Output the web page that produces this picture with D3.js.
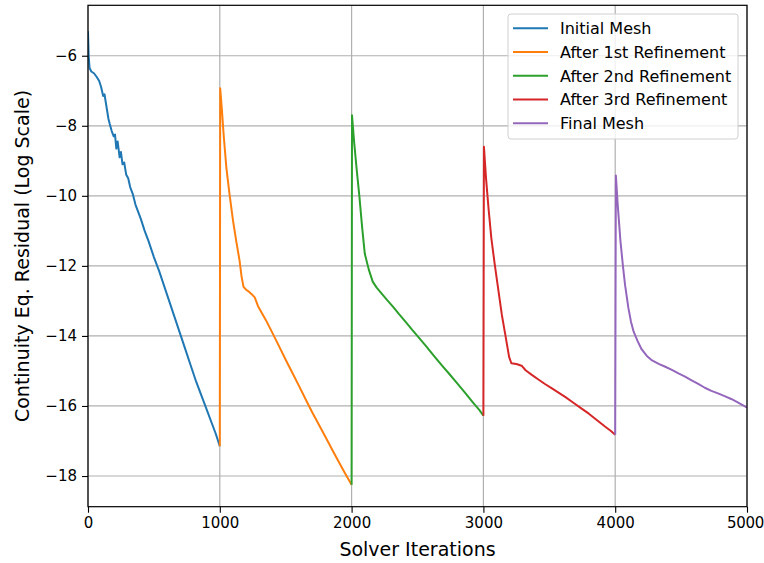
<!DOCTYPE html>
<html>
<head>
<meta charset="utf-8">
<script src="https://cdn.jsdelivr.net/npm/d3@7/dist/d3.min.js"></script>
<style>
  html, body { margin: 0; padding: 0; background: #fff; }
  svg { display: block; font-family: "DejaVu Sans", sans-serif; }
</style>
</head>
<body>
<svg id="chart" width="764" height="563"></svg>
<script>
// Residual history of the continuity equation across mesh refinements (log10 values)
const seriesNames = ["Initial Mesh", "After 1st Refinement", "After 2nd Refinement", "After 3rd Refinement", "Final Mesh"];
const seriesColors = ["#1f77b4", "#ff7f0e", "#2ca02c", "#d62728", "#9467bd"];

const initialIter = [0, 5, 12, 25, 45, 65, 85, 100, 115, 125, 140, 155, 165, 180, 195, 205, 215, 225, 240, 250, 262, 275, 290, 305, 320, 340, 360, 380, 400, 430, 460, 500, 540, 580, 620, 660, 700, 740, 780, 820, 860, 900, 940, 970, 1000];
const initialRes = [-5.3, -6.0, -6.35, -6.45, -6.5, -6.6, -6.72, -6.9, -7.15, -7.1, -7.45, -7.8, -7.95, -8.15, -8.3, -8.25, -8.65, -8.45, -8.9, -8.75, -9.1, -9.05, -9.4, -9.5, -9.75, -9.95, -10.25, -10.45, -10.65, -11.0, -11.3, -11.75, -12.15, -12.6, -13.05, -13.5, -13.95, -14.4, -14.85, -15.3, -15.7, -16.1, -16.5, -16.8, -17.15];

const ref1Iter = [1000, 1003, 1015, 1030, 1050, 1073, 1100, 1125, 1150, 1165, 1180, 1200, 1215, 1240, 1265, 1290, 1320, 1350, 1400, 1450, 1500, 1550, 1600, 1650, 1700, 1750, 1800, 1850, 1900, 1950, 2000];
const ref1Res = [-17.15, -6.93, -7.5, -8.3, -9.2, -9.93, -10.7, -11.3, -11.85, -12.3, -12.6, -12.68, -12.72, -12.8, -12.9, -13.15, -13.35, -13.55, -13.92, -14.3, -14.68, -15.05, -15.42, -15.8, -16.17, -16.52, -16.87, -17.23, -17.58, -17.92, -18.25];

const ref2Iter = [2000, 2003, 2020, 2040, 2060, 2080, 2100, 2130, 2160, 2190, 2230, 2270, 2315, 2360, 2410, 2460, 2515, 2560, 2620, 2680, 2740, 2800, 2860, 2920, 2970, 3000];
const ref2Res = [-18.25, -7.7, -8.5, -9.3, -10.05, -10.9, -11.65, -12.1, -12.45, -12.62, -12.8, -12.98, -13.17, -13.38, -13.6, -13.83, -14.07, -14.27, -14.55, -14.82, -15.08, -15.35, -15.62, -15.9, -16.12, -16.28];

const ref3Iter = [3000, 3004, 3020, 3040, 3060, 3085, 3110, 3140, 3170, 3195, 3212, 3250, 3290, 3320, 3370, 3420, 3470, 3520, 3570, 3620, 3680, 3740, 3800, 3860, 3920, 3970, 4000];
const ref3Res = [-16.28, -8.6, -9.5, -10.4, -11.2, -11.93, -12.6, -13.4, -14.05, -14.6, -14.78, -14.8, -14.85, -14.98, -15.12, -15.25, -15.38, -15.5, -15.62, -15.74, -15.9, -16.06, -16.22, -16.4, -16.58, -16.72, -16.82];

const finalIter = [4000, 4005, 4020, 4040, 4060, 4075, 4100, 4120, 4140, 4170, 4200, 4240, 4280, 4330, 4380, 4430, 4480, 4530, 4580, 4630, 4680, 4730, 4780, 4830, 4880, 4930, 4970, 5000];
const finalRes = [-16.82, -9.42, -10.3, -11.3, -12.05, -12.55, -13.2, -13.6, -13.88, -14.15, -14.38, -14.57, -14.7, -14.8, -14.88, -14.97, -15.07, -15.16, -15.27, -15.37, -15.48, -15.57, -15.64, -15.72, -15.8, -15.9, -15.98, -16.05];

const xTicks = [0, 1000, 2000, 3000, 4000, 5000];
const yTicks = [-18, -16, -14, -12, -10, -8, -6];

const seriesIter = [initialIter, ref1Iter, ref2Iter, ref3Iter, finalIter];
const seriesRes = [initialRes, ref1Res, ref2Res, ref3Res, finalRes];

const svg = d3.select("#chart");
const plot = { left: 88, right: 747, top: 5.3, bottom: 506.7 };

const x = d3.scaleLinear().domain([0, 5000]).range([plot.left, plot.right]);
const y = d3.scaleLinear().domain([-18.876, -4.56]).range([plot.bottom, plot.top]);

const fmt = v => String(v).replace("-", "\u2212");

// grid
const grid = svg.append("g");
grid.selectAll("line.gx").data(xTicks).join("line")
  .attr("x1", d => x(d)).attr("x2", d => x(d))
  .attr("y1", plot.top).attr("y2", plot.bottom)
  .attr("stroke", "#b0b0b0").attr("stroke-width", 1.2);
grid.selectAll("line.gy").data(yTicks).join("line")
  .attr("x1", plot.left).attr("x2", plot.right)
  .attr("y1", d => y(d)).attr("y2", d => y(d))
  .attr("stroke", "#b0b0b0").attr("stroke-width", 1.2);

// residual curves
svg.append("clipPath").attr("id", "plotClip").append("rect")
  .attr("x", plot.left).attr("y", plot.top)
  .attr("width", plot.right - plot.left).attr("height", plot.bottom - plot.top);

const line = d3.line().x(d => x(d[0])).y(d => y(d[1]));
const curves = svg.append("g").attr("clip-path", "url(#plotClip)");
seriesNames.forEach((name, i) => {
  const pts = seriesIter[i].map((it, k) => [it, seriesRes[i][k]]);
  curves.append("path").datum(pts)
    .attr("d", line)
    .attr("fill", "none")
    .attr("stroke", seriesColors[i])
    .attr("stroke-width", 2)
    .attr("stroke-linejoin", "round")
    .attr("stroke-linecap", "butt");
});

// axes
const xAxis = d3.axisBottom(x).tickValues(xTicks).tickSize(6).tickPadding(5).tickFormat(d => fmt(d));
const yAxis = d3.axisLeft(y).tickValues(yTicks).tickSize(6).tickPadding(5).tickFormat(d => fmt(d));

const gx = svg.append("g").attr("transform", `translate(0,${plot.bottom})`).call(xAxis);
const gy = svg.append("g").attr("transform", `translate(${plot.left},0)`).call(yAxis);
[gx, gy].forEach(g => {
  g.select(".domain").remove();
  g.selectAll(".tick line").attr("stroke", "#000").attr("stroke-width", 1.1);
  g.selectAll(".tick text").attr("fill", "#000").style("font-size", "15px").style("font-family", "DejaVu Sans");
});
// keep the last x label inside the page edge
gx.selectAll(".tick text").filter(d => d === 5000).attr("dx", -2).style("letter-spacing", "-0.3px");

// frame
svg.append("rect")
  .attr("x", plot.left).attr("y", plot.top)
  .attr("width", plot.right - plot.left).attr("height", plot.bottom - plot.top)
  .attr("fill", "none").attr("stroke", "#000").attr("stroke-width", 1.2);

// axis titles
svg.append("text")
  .attr("x", (plot.left + plot.right) / 2).attr("y", 556)
  .attr("text-anchor", "middle").style("font-size", "19px").attr("fill", "#000")
  .text("Solver Iterations");
svg.append("text")
  .attr("transform", `translate(29,${(plot.top + plot.bottom) / 2}) rotate(-90)`)
  .attr("text-anchor", "middle").style("font-size", "19px").attr("fill", "#000")
  .text("Continuity Eq. Residual (Log Scale)");

// legend
const legend = svg.append("g");
legend.append("rect")
  .attr("x", 508).attr("y", 14).attr("width", 230).attr("height", 125)
  .attr("rx", 3).attr("fill", "#fff").attr("fill-opacity", 0.8)
  .attr("stroke", "#d0d0d0").attr("stroke-width", 1);
seriesNames.forEach((name, i) => {
  const ry = 28.3 + i * 23.75;
  legend.append("line")
    .attr("x1", 513).attr("x2", 548).attr("y1", ry).attr("y2", ry)
    .attr("stroke", seriesColors[i]).attr("stroke-width", 2);
  legend.append("text")
    .attr("x", 560).attr("y", ry).attr("dy", "0.36em")
    .style("font-size", "16px").attr("fill", "#000")
    .text(name);
});
</script>
</body>
</html>
